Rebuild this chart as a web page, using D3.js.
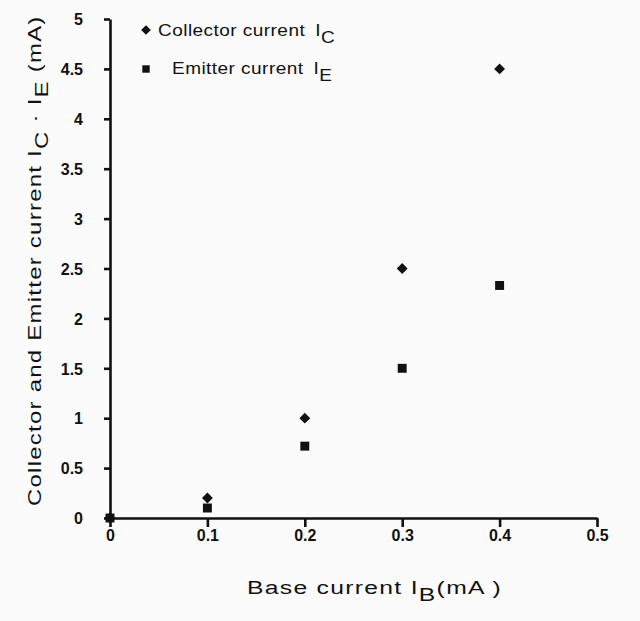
<!DOCTYPE html>
<html><head><meta charset="utf-8">
<script src="https://cdn.jsdelivr.net/npm/d3@7"></script>
<style>body{margin:0;background:#fbfbfb}</style>
</head><body>
<svg id="c" width="640" height="621"></svg>
<script>
const baseCurrent = [0, 0.1, 0.2, 0.3, 0.4];
const collectorCurrent = [0, 0.2, 1.0, 2.5, 4.5];
const emitterCurrent = [0, 0.1, 0.72, 1.5, 2.33];
const xTicks = [0, 0.1, 0.2, 0.3, 0.4, 0.5];
const yTicks = [0, 0.5, 1, 1.5, 2, 2.5, 3, 3.5, 4, 4.5, 5];

const FONT = "Liberation Sans, Arial, sans-serif";
const INK = "#111";
const svg = d3.select("#c");
svg.append("rect").attr("width",640).attr("height",621).attr("fill","#fbfbfb");
const x = d3.scaleLinear().domain([0,0.5]).range([110,597]);
const y = d3.scaleLinear().domain([0,5]).range([518,19]);

const xa = svg.append("g").attr("transform","translate(0,518)")
  .call(d3.axisBottom(x).tickValues(xTicks).tickSize(9).tickSizeOuter(0).tickPadding(3)
    .tickFormat(d=>d===0?"0":d3.format(".1f")(d)));
const ya = svg.append("g").attr("transform","translate(110,0)")
  .call(d3.axisLeft(y).tickValues(yTicks).tickSize(6).tickSizeOuter(0).tickPadding(21)
    .tickFormat(d=>String(d)));
[xa,ya].forEach(a=>{
  a.select(".domain").attr("stroke",INK).attr("stroke-width",2.6);
  a.selectAll(".tick line").attr("stroke",INK).attr("stroke-width",2.6);
  a.selectAll("text").attr("font-family",FONT).attr("font-weight","bold")
    .attr("font-size",16).attr("fill",INK);
});
ya.selectAll(".tick text").attr("dy","0.36em");

const diamond = d3.symbol().type(d3.symbolDiamond2).size(75);
const square = d3.symbol().type(d3.symbolSquare).size(80);

svg.append("g").selectAll("path").data(baseCurrent.map((b,i)=>[b,emitterCurrent[i]]))
  .join("path").attr("d",square).attr("fill",INK)
  .attr("transform",d=>`translate(${x(d[0])},${y(d[1])})`);
svg.append("g").selectAll("path").data(baseCurrent.map((b,i)=>[b,collectorCurrent[i]]))
  .join("path").attr("d",diamond).attr("fill",INK)
  .attr("transform",d=>`translate(${x(d[0])},${y(d[1])})`);

// legend
const lg = svg.append("g").attr("font-family",FONT).attr("fill",INK);
lg.append("path").attr("d",d3.symbol().type(d3.symbolDiamond2).size(60)).attr("fill",INK)
  .attr("transform","translate(146,30)");
const t1 = lg.append("text").attr("transform","translate(158,36) scale(1.12,1)")
  .attr("font-size",17).attr("letter-spacing",0.4);
t1.append("tspan").text("Collector current");
t1.append("tspan").attr("dx",9).text("I");
t1.append("tspan").attr("dy",7).text("C");
lg.append("path").attr("d",d3.symbol().type(d3.symbolSquare).size(55)).attr("fill",INK)
  .attr("transform","translate(146,69)");
const t2 = lg.append("text").attr("transform","translate(172,74) scale(1.12,1)")
  .attr("font-size",17).attr("letter-spacing",0.4);
t2.append("tspan").text("Emitter current");
t2.append("tspan").attr("dx",9).text("I");
t2.append("tspan").attr("dy",7).text("E");

// x title
const xt = svg.append("text").attr("transform","translate(247,594) scale(1.3,1)")
  .attr("font-family",FONT).attr("font-size",19).attr("letter-spacing",1).attr("fill",INK);
xt.append("tspan").text("Base current I");
xt.append("tspan").attr("dy",7).text("B");
xt.append("tspan").attr("dy",-7).text("(mA )");

// y title
const yt = svg.append("text").attr("transform","translate(41,506) rotate(-90) scale(1.26,1)")
  .attr("font-family",FONT).attr("font-size",19).attr("letter-spacing",1).attr("fill",INK);
yt.append("tspan").text("Collector and Emitter current I");
yt.append("tspan").attr("dy",7).text("C");
yt.append("tspan").attr("dy",-7).text(" · I");
yt.append("tspan").attr("dy",7).text("E");
yt.append("tspan").attr("dy",-7).text(" (mA)");
</script>
</body></html>
